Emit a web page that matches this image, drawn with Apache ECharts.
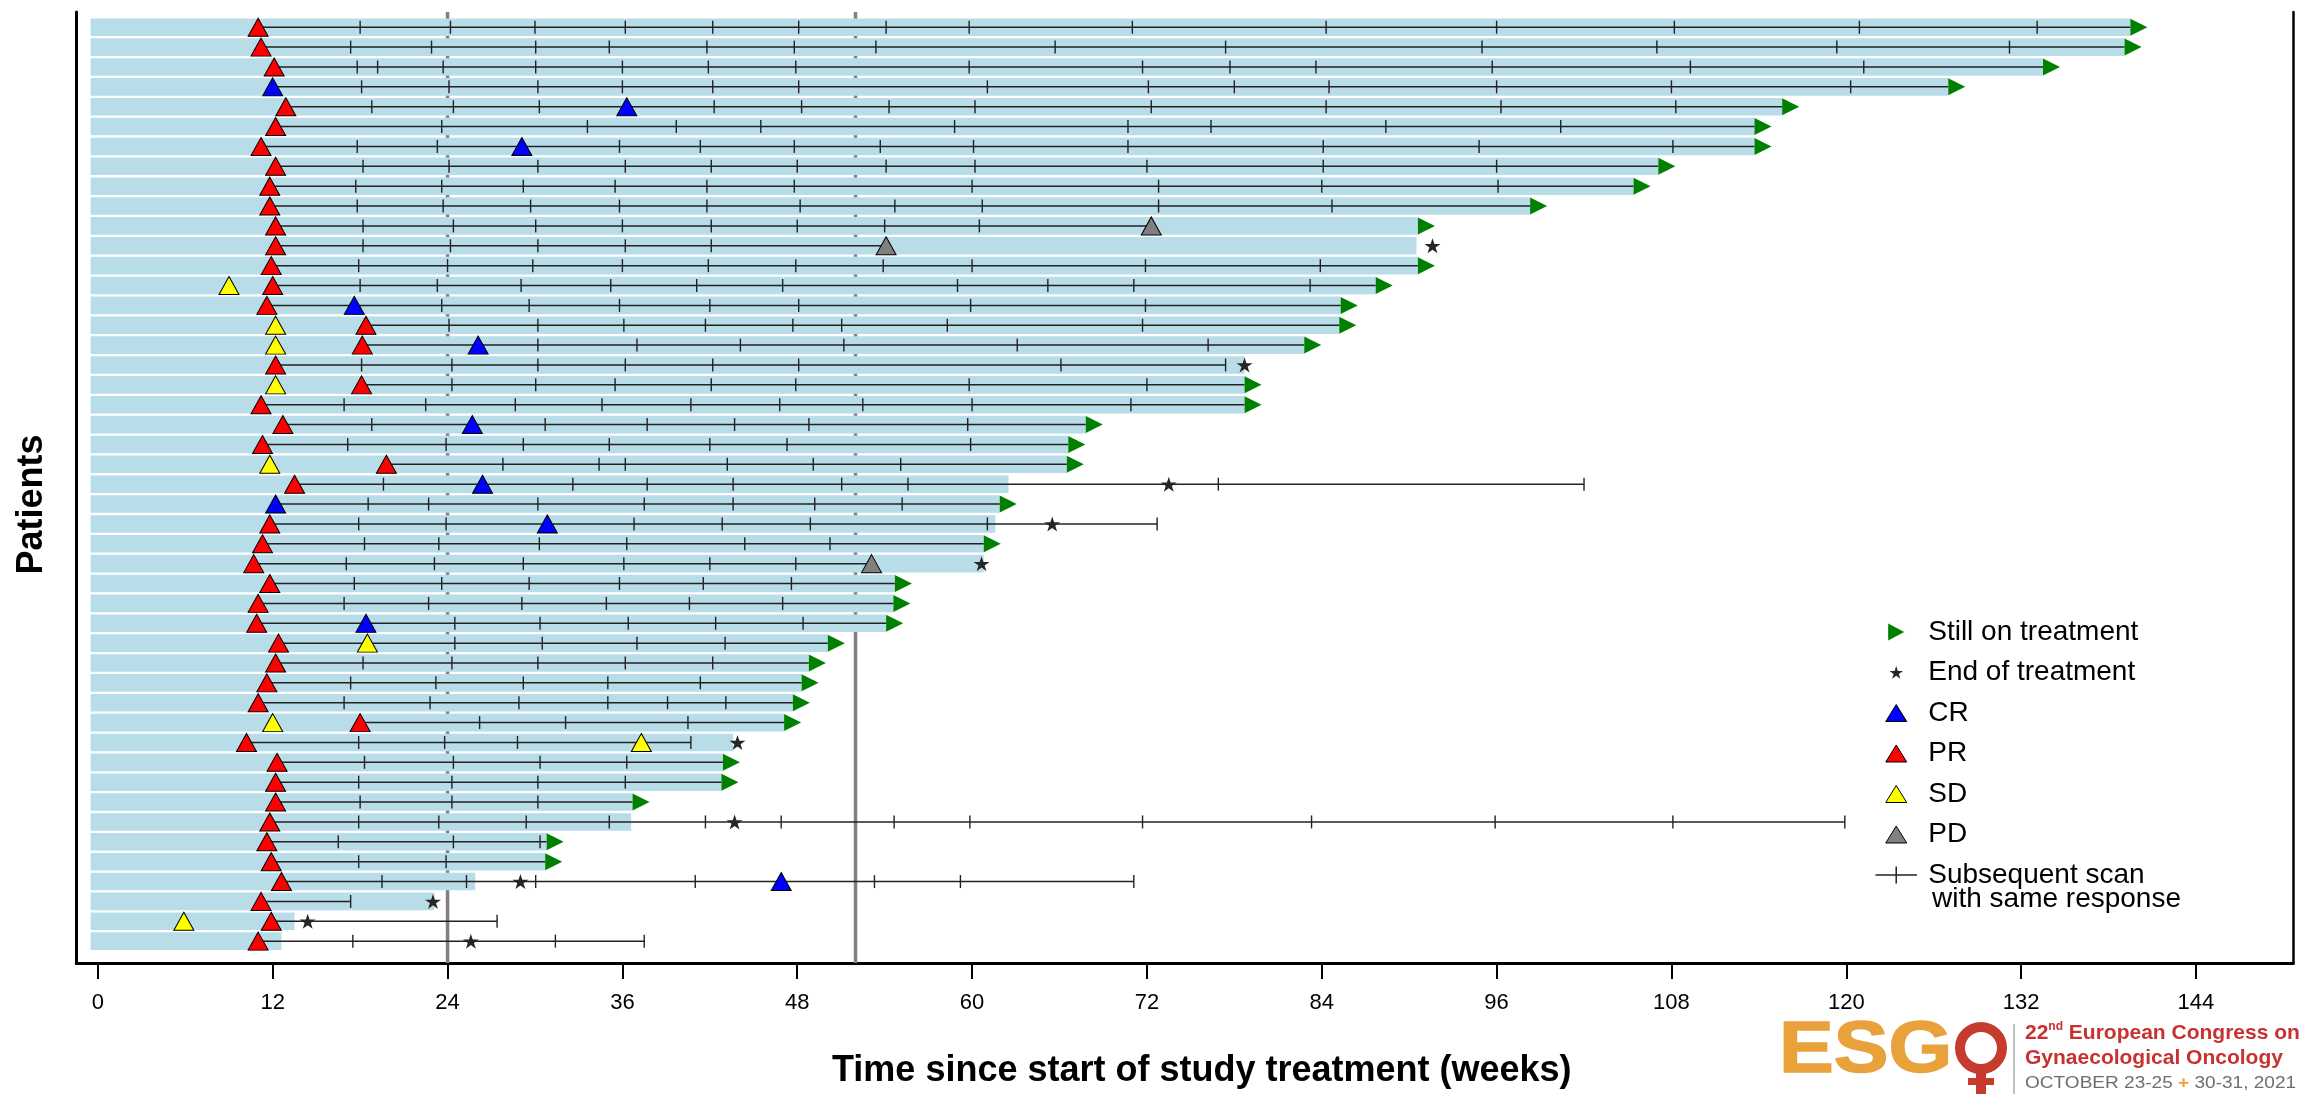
<!DOCTYPE html>
<html><head><meta charset="utf-8">
<script src="https://cdn.jsdelivr.net/npm/echarts@6/dist/echarts.min.js"></script>
<style>html,body{margin:0;padding:0;background:#fff}#c{width:2308px;height:1094px}</style>
</head><body><div id="c"></div>
<script>
// ---------- DATA (weeks since start of study treatment; rows numbered top to bottom) ----------
const barStart = -0.5;
const barEnd = [139.5,139.1,133.5,127.0,115.6,113.7,113.7,107.1,105.4,98.3,
  90.6,90.5,90.6,87.7,85.3,85.2,82.8,78.7,78.7,78.7,
  67.8,66.6,66.5,62.5,61.9,61.6,60.8,60.8,54.7,54.6,
  54.1,50.1,48.8,48.3,47.7,47.1,43.6,42.9,42.8,36.7,
  36.6,30.8,30.7,25.9,23.1,13.5,12.6];
const stillOnRows = [1,2,3,4,5,6,7,8,9,10,11,13,14,15,16,17,19,20,21,22,23,25,27,29,30,31,32,33,34,35,36,38,39,40,42,43];
const lineStart = [11.0,11.2,12.1,12.0,12.9,12.2,11.2,12.2,11.8,11.8,
  12.2,12.2,11.9,12.0,11.6,18.4,18.15,12.2,18.1,11.2,
  12.7,11.3,19.8,13.5,12.2,11.8,11.3,10.7,11.8,11.0,
  10.9,12.4,12.2,11.6,11.0,18.0,10.2,12.3,12.2,12.2,
  11.8,11.6,11.9,12.6,11.2,11.9,11.0];
const lineEnd = [139.5,139.1,133.5,127.0,115.6,113.7,113.7,107.1,105.4,98.3,
  72.3,54.1,90.6,87.7,85.3,85.2,82.8,77.4,78.7,78.7,
  67.8,66.6,66.5,102.0,61.9,72.7,60.8,53.1,54.7,54.6,
  54.1,50.1,48.8,48.3,47.7,47.1,40.7,42.9,42.8,36.7,
  119.9,30.8,30.7,71.1,17.35,27.4,37.5];
const scans = [
  [18.0,24.2,30.0,36.2,42.2,48.1,54.1,59.8,71.0,84.3,96.0,108.2,120.9,133.1],
  [17.35,22.9,30.05,35.1,41.8,47.8,53.4,65.7,77.4,95.0,107.0,119.35,131.2],
  [17.8,19.2,23.7,30.05,36.0,41.9,47.9,59.8,71.7,77.7,83.6,95.7,109.3,121.2],
  [18.1,24.1,30.2,36.0,42.2,48.1,61.05,72.1,78.0,84.5,96.0,108.0,120.3],
  [18.8,24.4,30.3,42.3,48.3,54.3,60.2,72.3,84.3,96.3,108.3],
  [23.6,33.6,39.7,45.5,58.8,70.7,76.4,88.4,100.4],
  [17.8,23.3,35.8,41.35,47.8,53.7,60.1,70.7,84.1,94.8,108.1],
  [18.2,24.1,30.2,36.2,42.1,48.0,54.1,60.2,72.0,84.1,96.0],
  [17.7,23.6,29.2,35.5,41.8,47.8,60.0,72.8,84.0,96.1],
  [17.8,23.7,29.7,35.8,41.8,48.2,54.7,60.7,72.8,84.7],
  [18.2,24.4,30.05,36.0,42.1,48.0,54.0,60.5],
  [18.2,24.2,30.2,36.2,42.1],
  [17.9,24.0,29.85,36.0,41.9,47.9,53.9,60.0,71.9,83.9],
  [18.0,23.3,29.05,35.2,41.1,47.0,59.0,65.2,71.1,83.2],
  [23.6,29.6,35.8,42.0,48.1,59.9,71.9],
  [24.1,30.2,36.1,41.7,47.7,51.05,58.3,71.7],
  [30.2,37.0,44.1,51.2,63.1,76.2],
  [18.1,24.3,30.2,36.2,42.2,48.1,66.1,77.4],
  [24.3,30.05,35.5,42.1,47.9,59.8,72.0],
  [16.9,22.5,28.65,34.6,40.7,46.8,52.5,60.0,70.9],
  [18.8,30.7,37.7,43.7,48.8,59.7],
  [17.15,23.9,29.2,35.1,42.0,47.3,59.9],
  [27.8,34.4,36.2,43.2,49.1,55.1],
  [19.6,32.6,37.7,43.6,51.05,55.6,76.9,102.0],
  [18.55,22.7,30.2,37.5,43.6,49.2,55.2],
  [17.9,23.9,36.8,42.85,48.9,61.05,72.7],
  [18.3,23.4,30.3,36.3,44.4,50.25],
  [17.05,23.1,29.2,36.1,42.0,47.9],
  [17.6,23.6,29.6,35.8,41.55,47.6],
  [16.9,22.7,29.1,34.9,40.6,47.0],
  [24.5,30.35,36.4,42.4,48.4],
  [24.5,30.5,37.0,43.05],
  [18.2,24.3,30.2,36.2,42.2],
  [17.35,23.2,29.2,35.0,41.35],
  [16.9,22.8,28.9,35.0,39.1,43.1],
  [26.2,32.1,40.5],
  [17.9,23.8,28.8,40.7],
  [18.3,24.4,30.35,36.3],
  [17.9,24.3,30.2,36.2],
  [18.0,24.3,30.2],
  [17.9,23.4,29.4,35.1,41.7,46.9,54.65,59.85,71.7,83.3,95.9,108.1,119.9],
  [16.5,24.4,30.35],
  [17.9,23.9],
  [19.5,25.3,30.05,41.0,53.3,59.2,71.1],
  [17.35],
  [27.4],
  [17.5,31.4,37.5]
];
const CR = [[12.0,4],[36.3,5],[29.1,7],[17.6,15],[26.1,17],[25.7,21],[26.4,24],[12.2,25],[30.85,26],[18.4,31],[46.9,44]];
const PR = [[11.0,1],[11.2,2],[12.1,3],[12.9,5],[12.2,6],[11.2,7],[12.2,8],[11.8,9],[11.8,10],[12.2,11],
  [12.2,12],[11.9,13],[12.0,14],[11.6,15],[18.4,16],[18.15,17],[12.2,18],[18.1,19],[11.2,20],[12.7,21],
  [11.3,22],[19.8,23],[13.5,24],[11.8,26],[11.3,27],[10.7,28],[11.8,29],[11.0,30],[10.9,31],[12.4,32],
  [12.2,33],[11.6,34],[11.0,35],[18.0,36],[10.2,37],[12.3,38],[12.2,39],[12.2,40],[11.8,41],[11.6,42],
  [11.9,43],[12.6,44],[11.2,45],[11.9,46],[11.0,47]];
const SD = [[9.0,14],[12.2,16],[12.2,17],[12.2,19],[11.8,23],[18.5,32],[12.0,36],[37.3,37],[5.9,46]];
const PD = [[72.3,11],[54.1,12],[53.1,28]];
const endOfTreatment = [[91.6,12],[78.7,18],[73.5,24],[65.5,26],[60.65,28],[43.9,37],[43.7,41],[29.0,44],[23.0,45],[14.4,46],[25.6,47]];
const refLines = [24, 52];
const tickLabels = [0,12,24,36,48,60,72,84,96,108,120,132,144];

// ---------- CHART ----------
const FONT = "'Liberation Sans', Arial, sans-serif";
const TRI = 'triangle';
const ARROW = 'path://M0 0 L17 9 L0 18 Z';
const STAR = 'path://M50 0 L61.23 34.55 L97.55 34.55 L68.17 55.9 L79.39 90.45 L50 69.1 L20.61 90.45 L31.83 55.9 L2.45 34.55 L38.77 34.55 Z';
const STAR_LEG = 'path://M50 -14 M50 106 M50 0 L61.23 34.55 L97.55 34.55 L68.17 55.9 L79.39 90.45 L50 69.1 L20.61 90.45 L31.83 55.9 L2.45 34.55 L38.77 34.55 Z';
const TRI_LEG = 'path://M10.5 0 L21 17 L0 17 Z';
const CROSS_LEG = 'path://M0 8 L39 8 M19.5 0 L19.5 16';

const chart = echarts.init(document.getElementById('c'), null, {renderer: 'canvas'});

const barData = barEnd.map((e, i) => [i + 1, barStart, e]);
const lineData = lineStart.map((s, i) => [i + 1, s, lineEnd[i]]);
const scanData = [];
scans.forEach((arr, i) => arr.forEach(w => scanData.push([w, i + 1])));
const stillData = stillOnRows.map(r => [barEnd[r - 1], r]);

const triStyle = c => ({color: c, borderColor: '#000', borderWidth: 1, opacity: 1});

chart.setOption({
  backgroundColor: '#fff',
  animation: false,
  grid: {left: 76.3, right: 14.7, top: 12, bottom: 127, containLabel: false},
  xAxis: {
    type: 'value', min: -1.48, max: 150.68,
    axisLine: {show: true, onZero: false, lineStyle: {color: '#000', width: 3}},
    axisTick: {show: true, customValues: tickLabels, length: 16, inside: false, lineStyle: {color: '#000', width: 2}},
    axisLabel: {show: true, customValues: tickLabels, fontSize: 22, color: '#000', margin: 29, fontFamily: FONT},
    splitLine: {show: false},
    name: 'Time since start of study treatment (weeks)', nameLocation: 'middle', nameGap: 90,
    nameTextStyle: {fontSize: 36, fontWeight: 'bold', color: '#000', fontFamily: FONT, padding: [0, 0, 0, 34]}
  },
  yAxis: [{
    type: 'value', inverse: true, min: 0.233, max: 48.1,
    axisLine: {show: true, onZero: false, lineStyle: {color: '#000', width: 3}},
    axisTick: {show: false}, axisLabel: {show: false}, splitLine: {show: false},
    name: 'Patients', nameLocation: 'middle', nameGap: 26, nameRotate: 90,
    nameTextStyle: {fontSize: 36, fontWeight: 'bold', color: '#000', fontFamily: FONT, padding: [0, 34, 0, 0]}
  }, {
    type: 'value', position: 'right', inverse: true, min: 0.233, max: 48.1,
    axisLine: {show: true, onZero: false, lineStyle: {color: '#000', width: 2.5}},
    axisTick: {show: false}, axisLabel: {show: false}, splitLine: {show: false}
  }],
  legend: {
    orient: 'vertical', left: 1873, top: 618, padding: 0,
    itemWidth: 54, itemHeight: 17, itemGap: 12.5, selectedMode: false,
    textStyle: {fontSize: 28, lineHeight: 28, color: '#000', fontFamily: FONT},
    data: [
      {name: 'Still on treatment', icon: ARROW, itemStyle: {borderWidth: 0, opacity: 1}},
      {name: 'End of treatment', icon: STAR_LEG, itemStyle: {borderWidth: 0, opacity: 1}},
      {name: 'CR', icon: TRI_LEG, itemStyle: {borderColor: '#000', borderWidth: 1, opacity: 1}},
      {name: 'PR', icon: TRI_LEG, itemStyle: {borderColor: '#000', borderWidth: 1, opacity: 1}},
      {name: 'SD', icon: TRI_LEG, itemStyle: {borderColor: '#000', borderWidth: 1, opacity: 1}},
      {name: 'PD', icon: TRI_LEG, itemStyle: {borderColor: '#000', borderWidth: 1, opacity: 1}},
      {name: 'Subsequent scan', icon: CROSS_LEG, itemStyle: {color: 'none', borderColor: '#222', borderWidth: 1.5, opacity: 1}}
    ]
  },
  graphic: [
    {type: 'text', x: 1932, y: 899, style: {text: 'with same response', font: "28px 'Liberation Sans', Arial, sans-serif", fill: '#000', verticalAlign: 'middle', align: 'left'}},
    // ESGO logo
    {type: 'text', x: 1779, y: 1052, scaleX: 1.14, style: {text: 'ESG', font: "bold 72px 'Liberation Sans', Arial, sans-serif", fill: '#e9a23b', stroke: '#e9a23b', lineWidth: 1.5, verticalAlign: 'middle', align: 'left'}},
    {type: 'circle', shape: {cx: 1981, cy: 1048, r: 21}, style: {fill: 'none', stroke: '#c73b2e', lineWidth: 10}},
    {type: 'rect', shape: {x: 1976, y: 1068, width: 10, height: 26}, style: {fill: '#c73b2e'}},
    {type: 'rect', shape: {x: 1968, y: 1078, width: 26, height: 7}, style: {fill: '#c73b2e'}},
    {type: 'line', shape: {x1: 2014, y1: 1024, x2: 2014, y2: 1094}, style: {stroke: '#aaa', lineWidth: 1.5}},
    {type: 'text', x: 2025, y: 1033, style: {
      text: '{a|22}{s|nd}{a| European Congress on}',
      rich: {a: {font: "bold 21px 'Liberation Sans', Arial, sans-serif", fill: '#c8312f', lineHeight: 24},
             s: {font: "bold 12px 'Liberation Sans', Arial, sans-serif", fill: '#c8312f', lineHeight: 24, verticalAlign: 'top'}},
      verticalAlign: 'middle', align: 'left'}},
    {type: 'text', x: 2025, y: 1058, style: {text: 'Gynaecological Oncology', font: "bold 21px 'Liberation Sans', Arial, sans-serif", fill: '#c8312f', verticalAlign: 'middle', align: 'left'}},
    {type: 'text', x: 2025, y: 1083, scaleX: 1.12, style: {
      text: '{g|OCTOBER 23-25 }{o|+}{g| 30-31, 2021}',
      rich: {g: {font: "17px 'Liberation Sans', Arial, sans-serif", fill: '#6d6e71'},
             o: {font: "bold 17px 'Liberation Sans', Arial, sans-serif", fill: '#e9a23b'}},
      verticalAlign: 'middle', align: 'left'}}
  ],
  series: [
    { // reference lines at 24 and 52 weeks (behind the bars)
      type: 'custom', name: 'ref', silent: true, z: 1,
      renderItem: (params, api) => {
        const x = api.coord([api.value(0), 1])[0];
        const cs = params.coordSys;
        return {type: 'line', shape: {x1: x, y1: cs.y, x2: x, y2: cs.y + cs.height}, style: {stroke: '#808080', lineWidth: 3.5}};
      },
      encode: {x: 0}, data: refLines.map(v => [v])
    },
    { // treatment bars
      type: 'custom', name: 'bars', silent: true, z: 2,
      renderItem: (params, api) => {
        const r = api.value(0);
        const p0 = api.coord([api.value(1), r]);
        const p1 = api.coord([api.value(2), r]);
        const h = api.size([0, 1])[1] * 0.885;
        return {type: 'rect', shape: {x: p0[0], y: p0[1] - h / 2, width: p1[0] - p0[0], height: h}, style: {fill: '#b8dde8'}};
      },
      encode: {x: [1, 2], y: 0}, data: barData
    },
    { // response duration lines
      type: 'custom', name: 'lines', silent: true, z: 3,
      renderItem: (params, api) => {
        const r = api.value(0);
        const p0 = api.coord([api.value(1), r]);
        const p1 = api.coord([api.value(2), r]);
        return {type: 'line', shape: {x1: p0[0], y1: p0[1], x2: p1[0], y2: p1[1]}, style: {stroke: '#222', lineWidth: 1.5}};
      },
      encode: {x: [1, 2], y: 0}, data: lineData
    },
    { // subsequent scans with same response
      type: 'custom', name: 'Subsequent scan', silent: true, z: 3,
      itemStyle: {color: '#222'},
      renderItem: (params, api) => {
        const p = api.coord([api.value(0), api.value(1)]);
        return {type: 'line', shape: {x1: p[0], y1: p[1] - 6.5, x2: p[0], y2: p[1] + 6.5}, style: {stroke: '#222', lineWidth: 1.4}};
      },
      encode: {x: 0, y: 1}, data: scanData
    },
    {type: 'scatter', name: 'Still on treatment', z: 4, silent: true, symbol: ARROW, symbolSize: [17, 17], symbolOffset: [8.5, 0],
      itemStyle: {color: '#008000', opacity: 1}, data: stillData},
    {type: 'scatter', name: 'End of treatment', z: 5, silent: true, symbol: STAR, symbolSize: [16, 15],
      itemStyle: {color: '#262626', opacity: 1}, data: endOfTreatment},
    {type: 'scatter', name: 'CR', z: 4, silent: true, symbol: TRI, symbolSize: [20, 18], itemStyle: triStyle('#0000ff'), data: CR},
    {type: 'scatter', name: 'PR', z: 4, silent: true, symbol: TRI, symbolSize: [20, 18], itemStyle: triStyle('#ff0000'), data: PR},
    {type: 'scatter', name: 'SD', z: 4, silent: true, symbol: TRI, symbolSize: [20, 18], itemStyle: triStyle('#ffff00'), data: SD},
    {type: 'scatter', name: 'PD', z: 4, silent: true, symbol: TRI, symbolSize: [20, 18], itemStyle: triStyle('#808080'), data: PD}
  ]
});
</script></body></html>
